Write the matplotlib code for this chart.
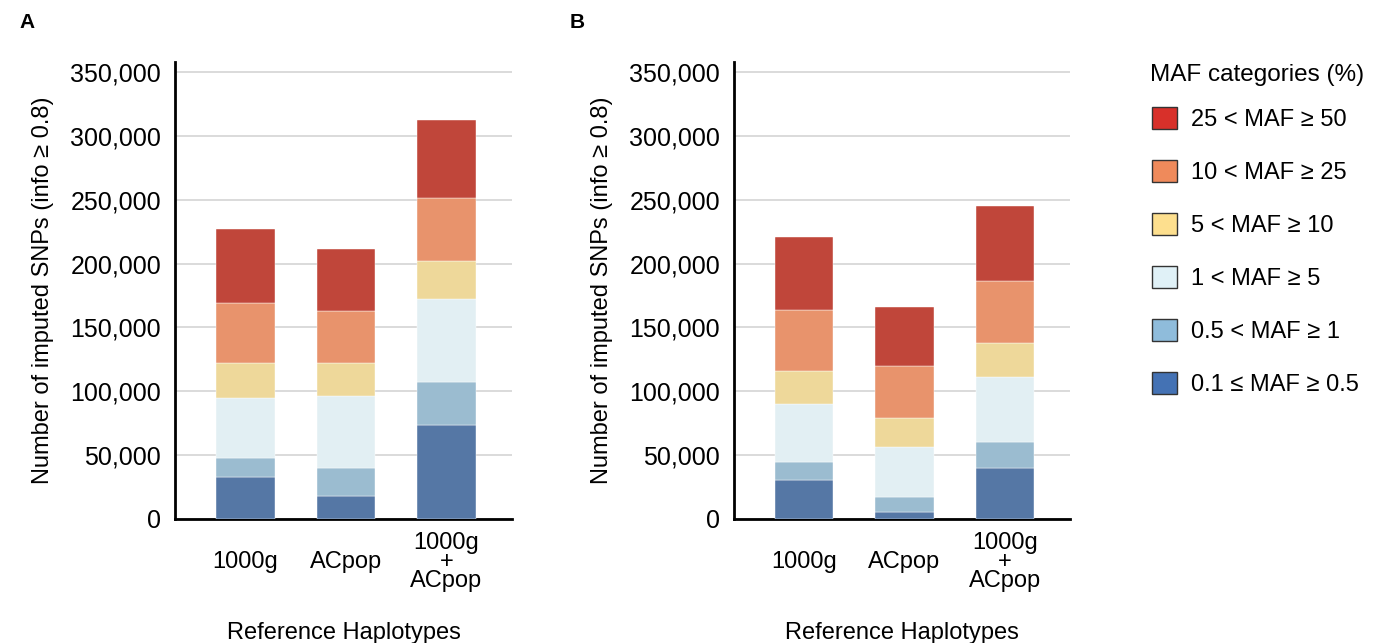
import matplotlib
matplotlib.use('Agg')
import matplotlib.pyplot as plt
from matplotlib.patches import Patch
from matplotlib.ticker import FuncFormatter
import numpy as np

plt.rcParams['font.family'] = ['Liberation Sans', 'DejaVu Sans']

groups = ['1000g', 'ACpop', '1000g\n+\nACpop']
categories = ['0.1 ≤ MAF ≥ 0.5', '0.5 < MAF ≥ 1', '1 < MAF ≥ 5',
              '5 < MAF ≥ 10', '10 < MAF ≥ 25', '25 < MAF ≥ 50']

# segment heights, bottom to top, per reference set
panel_a = {
    '1000g':       [33000, 15000, 46600, 27500, 47100, 58100],
    'ACpop':       [18000, 22000, 56500, 25700, 40500, 48700],
    '1000g+ACpop': [74000, 33500, 64600, 29600, 49500, 61400],
}
panel_b = {
    '1000g':       [30800, 14100, 45200, 25800, 48000, 57200],
    'ACpop':       [5700, 11500, 39400, 22500, 40400, 46500],
    '1000g+ACpop': [40200, 19800, 50900, 26900, 49000, 58500],
}

bar_colors = ['#5577a5', '#9bbcd0', '#e2eff3', '#eed89a', '#e8936c', '#c0463a']
legend_colors = ['#4472b4', '#8fbcdb', '#e0f1f7', '#fddf8e', '#ef8a5b', '#d8302a']

fig = plt.figure(figsize=(13.76, 6.43), dpi=100)
ax_a = fig.add_axes([0.1272, 0.1929, 0.2448, 0.7107])
ax_b = fig.add_axes([0.5334, 0.1929, 0.2442, 0.7107])


def draw(ax, data):
    x = np.arange(len(groups))
    vals = np.array(list(data.values()))
    bottom = np.zeros(len(groups))
    for i in range(len(categories)):
        ax.bar(x, vals[:, i], width=0.58, bottom=bottom, color=bar_colors[i],
               edgecolor='white', linewidth=0.3, zorder=3)
        bottom += vals[:, i]
    ax.set_xlim(-0.7, 2.65)
    ax.set_ylim(0, 358000)
    ax.set_yticks(np.arange(0, 350001, 50000))
    ax.yaxis.set_major_formatter(FuncFormatter(lambda v, p: f'{int(v):,}'))
    ax.yaxis.grid(True, color='#d4d4d4', linewidth=1.2, zorder=0)
    ax.set_xticks(x)
    ax.set_xticklabels(groups, fontsize=17, linespacing=0.8)
    for lab in ax.get_xticklabels():
        lab.set_verticalalignment('center')
    ax.tick_params(axis='x', length=0, pad=31)
    ax.tick_params(axis='y', length=0, pad=10, labelsize=18)
    for s in ['top', 'right']:
        ax.spines[s].set_visible(False)
    for s in ['left', 'bottom']:
        ax.spines[s].set_linewidth(2)
    ax.set_ylabel('Number of imputed SNPs (info ≥ 0.8)', fontsize=17, labelpad=12)
    ax.set_xlabel('Reference Haplotypes', fontsize=17, labelpad=22)


draw(ax_a, panel_a)
draw(ax_b, panel_b)

fig.text(0.014, 0.965, 'A', fontsize=15, fontweight='bold', va='center')
fig.text(0.414, 0.965, 'B', fontsize=15, fontweight='bold', va='center')

# legend title placed on its own, entries below
fig.text(0.8357, 0.883, 'MAF categories (%)', fontsize=17.5, va='center', ha='left')
handles = [Patch(facecolor=legend_colors[i], edgecolor='#333333', linewidth=1)
           for i in reversed(range(len(categories)))]
labels = list(reversed(categories))
fig.legend(handles, labels, loc='upper left', bbox_to_anchor=(0.8372, 0.8335),
           frameon=False, fontsize=17, borderpad=0, borderaxespad=0,
           handlelength=1.05, handleheight=1.05,
           labelspacing=1.23, handletextpad=0.6)

fig.savefig('out.png', dpi=100)
